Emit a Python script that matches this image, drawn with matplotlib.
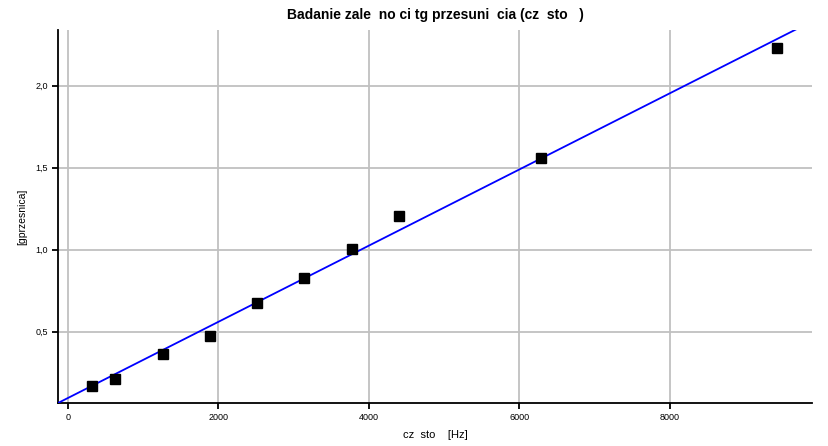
import numpy as np
import matplotlib
matplotlib.use("Agg")
import matplotlib.pyplot as plt
from matplotlib.ticker import FuncFormatter

plt.rcParams['font.family'] = ['Liberation Sans', 'DejaVu Sans']

# measured points: x = omega (2*pi*f), y = tg of phase shift
omega = [314, 628, 1257, 1885, 2513, 3142, 3770, 4398, 6283, 9425]
tg_phi = [0.169, 0.212, 0.364, 0.474, 0.675, 0.827, 1.004, 1.206, 1.56, 2.23]

# fitted line end points
fit_x = [-133, 9700]
fit_y = [0.065, 2.349]

x_ticks = [0, 2000, 4000, 6000, 8000]
y_ticks = [0.5, 1.0, 1.5, 2.0]

fig = plt.figure(figsize=(8.29, 4.46), dpi=100)
ax = fig.add_axes([0.070, 0.0964, 0.9095, 0.8363])

ax.plot(fit_x, fit_y, color='#0000ff', lw=1.3, zorder=3)
ax.plot(omega, tg_phi, 's', color='black', ms=6.8, zorder=4)

ax.set_xlim(-133, 9890)
ax.set_ylim(0.065, 2.34)
ax.set_xticks(x_ticks)
ax.set_yticks(y_ticks)
ax.yaxis.set_major_formatter(FuncFormatter(lambda v, p: f"{v:.1f}".replace('.', ',')))
ax.grid(True, color='#c0c0c0', lw=1.3)
ax.set_axisbelow(True)

for s in ['top', 'right']:
    ax.spines[s].set_visible(False)
for s in ['left', 'bottom']:
    ax.spines[s].set_linewidth(1.3)
ax.tick_params(direction='out', length=4, width=1.3, labelsize=6.5, pad=3)

ax.set_title("Badanie zale  no ci tg przesuni  cia (cz  sto   )", fontsize=10,
             fontweight='bold', pad=8)
ax.set_xlabel("cz  sto    [Hz]", fontsize=8, labelpad=6)
ax.set_ylabel("[gprzesnica]", fontsize=7.5, labelpad=6)

fig.savefig("out.png", dpi=100)
